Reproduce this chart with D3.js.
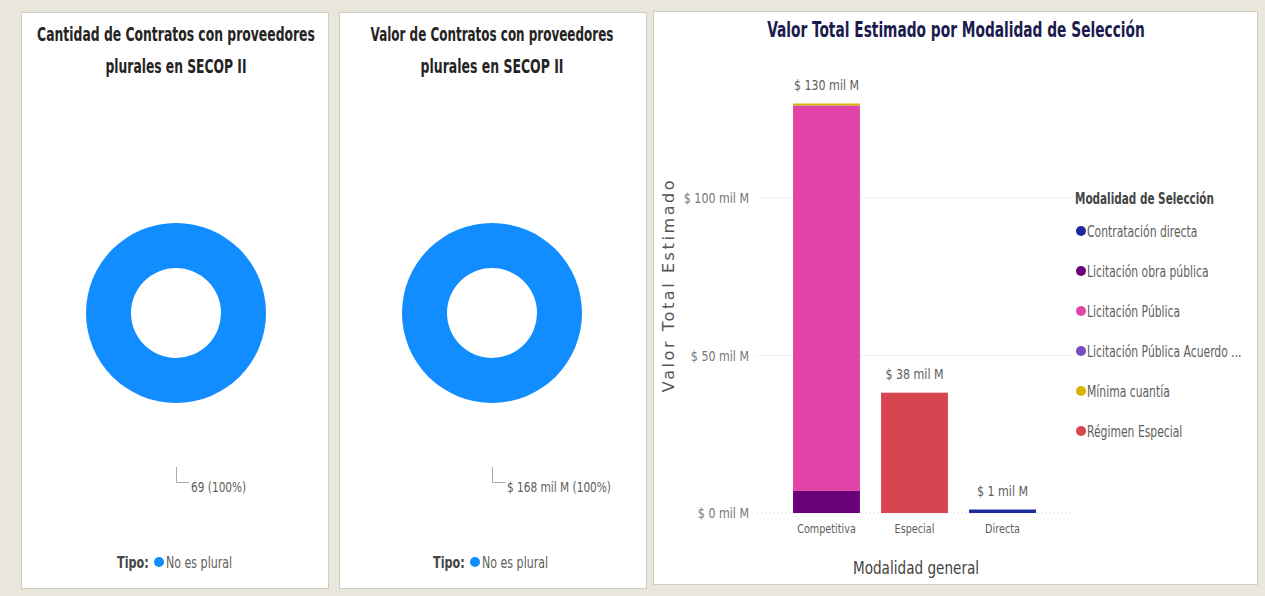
<!DOCTYPE html>
<html><head><meta charset="utf-8">
<script src="https://cdn.jsdelivr.net/npm/d3@7"></script>
<style>
html,body{margin:0;padding:0;background:#e9e6dc;}
svg{display:block;}
</style></head>
<body>
<svg id="c" width="1265" height="596"></svg>
<script>
// ---- data ----
const tipoLabels = ["No es plural"];
const cantidadContratos = [69];
const valorContratos = [168]; // mil M
const categories = ["Competitiva", "Especial", "Directa"];
const modalidades = ["Contratación directa", "Licitación obra pública", "Licitación Pública", "Licitación Pública Acuerdo ...", "Mínima cuantía", "Régimen Especial"];
const contratacionDirecta = [0, 0, 1.1];
const licitacionObraPublica = [7.0, 0, 0];
const licitacionPublica = [122.3, 0, 0];
const licitacionAcuerdo = [0.1, 0, 0];
const minimaCuantia = [0.6, 0, 0];
const regimenEspecial = [0, 38.2, 0];
const yTicks = [0, 50, 100];

const modColors = ["#1c2a9e", "#6b007b", "#e044a7", "#744ec2", "#d9b300", "#d64550"];
const seriesValues = [contratacionDirecta, licitacionObraPublica, licitacionPublica, licitacionAcuerdo, minimaCuantia, regimenEspecial];

const svg = d3.select("#c");
const FONT = "'DejaVu Sans Condensed','DejaVu Sans',sans-serif";

// condensed text: anchor at (x,y), horizontally scaled by k (mimics the narrow font of the reference)
function ctext(parent, x, y, k, str, anchor) {
  return parent.append("text").attr("transform", `translate(${x},${y}) scale(${k},1)`)
    .attr("text-anchor", anchor || "start").attr("font-family", FONT).text(str);
}
// scale to a target width
function wtext(parent, x, y, w, str, anchor, size, weight) {
  const t = parent.append("text").attr("text-anchor", anchor || "start").attr("font-family", FONT)
    .attr("font-size", size).attr("font-weight", weight || "normal").text(str);
  const len = t.node().getComputedTextLength();
  t.attr("transform", `translate(${x},${y}) scale(${w / len},1)`);
  return t;
}

// panels
const panels = [[21, 12, 307, 576], [339, 12, 307, 576], [653, 11, 604, 573]];
panels.forEach(p => svg.append("rect").attr("x", p[0] + 0.5).attr("y", p[1] + 0.5).attr("width", p[2]).attr("height", p[3])
  .attr("fill", "#fff").attr("stroke", "#d0cdc4"));

// ---- donuts ----
function donut(cx, title, titleW, values, labelFmt, legendX) {
  const g = svg.append("g");
  title.forEach((t, i) => wtext(g, cx, 41 + i * 32, titleW[i], t, "middle", 20, "bold").attr("fill", "#252423"));
  const pie = d3.pie().sort(null)(values);
  const arc = d3.arc().innerRadius(45).outerRadius(90);
  g.append("g").attr("transform", `translate(${cx},313)`).selectAll("path").data(pie).join("path")
    .attr("d", arc).attr("fill", "#118dff");
  const total = d3.sum(values);
  g.append("path").attr("d", `M${cx + 0.5},467 V482.5 H${cx + 13}`).attr("fill", "none").attr("stroke", "#aaa");
  ctext(g, cx + 15, 492, 0.84, labelFmt(values[0]) + " (" + Math.round(values[0] / total * 100) + "%)")
    .attr("font-size", 14).attr("fill", "#605e5c");
  ctext(g, legendX, 568, 0.83, "Tipo:").attr("font-weight", "bold").attr("font-size", 15).attr("fill", "#444");
  g.append("circle").attr("cx", legendX + 42).attr("cy", 562).attr("r", 5).attr("fill", "#118dff");
  ctext(g, legendX + 49, 568, 0.82, tipoLabels[0]).attr("font-size", 15).attr("fill", "#605e5c");
}
donut(176, ["Cantidad de Contratos con proveedores", "plurales en SECOP II"], [278, 141], cantidadContratos, v => String(v), 117);
donut(492, ["Valor de Contratos con proveedores", "plurales en SECOP II"], [243, 143], valorContratos, v => "$ " + v + " mil M", 433);

// ---- stacked bar ----
const x = d3.scaleBand().domain(categories).range([782.5, 1046.5]).paddingInner(0.24).paddingOuter(0.12);
const y = d3.scaleLinear().domain([0, 130]).range([513, 103.5]);

wtext(svg, 956, 37, 378, "Valor Total Estimado por Modalidad de Selección", "middle", 21, "bold").attr("fill", "#1b1b4f");

// grid
const grid = svg.append("g");
yTicks.forEach(t => grid.append("line").attr("x1", 757).attr("x2", 1072).attr("y1", y(t)).attr("y2", y(t))
  .attr("stroke", "#c8c8c8").attr("stroke-dasharray", "1,3"));
const yAxis = d3.axisLeft(y).tickValues(yTicks).tickSize(0).tickPadding(0).tickFormat(d => "$ " + d + " mil M");
const ya = svg.append("g").attr("transform", "translate(749,0)").call(yAxis);
ya.select(".domain").remove();
ya.selectAll("text").attr("font-family", FONT).attr("font-size", 14).attr("fill", "#777").attr("dy", "0.35em")
  .attr("x", 0).attr("transform", "scale(0.88,1)");

const stackData = categories.map((c, i) => { const o = { cat: c }; modalidades.forEach((m, k) => o[m] = seriesValues[k][i]); return o; });
const stack = d3.stack().keys(modalidades)(stackData);
svg.append("g").selectAll("g").data(stack).join("g").attr("fill", (d, i) => modColors[i])
  .selectAll("rect").data(d => d).join("rect")
  .attr("x", d => x(d.data.cat)).attr("width", x.bandwidth())
  .attr("y", d => y(d[1])).attr("height", d => Math.max(0, y(d[0]) - y(d[1])));

// totals
categories.forEach((c, i) => {
  const tot = d3.sum(seriesValues, s => s[i]);
  ctext(svg, x(c) + x.bandwidth() / 2, y(tot) - 14, 0.88, "$ " + Math.round(tot) + " mil M", "middle")
    .attr("font-size", 14).attr("fill", "#605e5c");
});

const xAxis = d3.axisBottom(x).tickSize(0).tickPadding(0);
const xa = svg.append("g").attr("transform", "translate(0,521)").call(xAxis);
xa.select(".domain").remove();
xa.selectAll("text").attr("font-family", FONT).attr("font-size", 12.5).attr("fill", "#605e5c").attr("dy", "1em")
  .attr("y", 0).attr("transform", "scale(0.86,1)");

ctext(svg, 916, 574, 0.84, "Modalidad general", "middle").attr("font-size", 18).attr("fill", "#444");
const yt = svg.append("text").attr("text-anchor", "middle").attr("font-family", "'DejaVu Sans',sans-serif")
  .attr("font-size", 16).attr("fill", "#555").attr("letter-spacing", 2.6).text("Valor Total Estimado");
yt.attr("transform", "translate(674,285) rotate(-90)");

// legend
const lg = svg.append("g");
ctext(lg, 1075, 204, 0.75, "Modalidad de Selección").attr("font-weight", "bold").attr("font-size", 15.5).attr("fill", "#444");
modalidades.forEach((m, i) => {
  const yy = 231 + i * 40;
  lg.append("circle").attr("cx", 1081).attr("cy", yy).attr("r", 5).attr("fill", modColors[i]);
  ctext(lg, 1087, yy + 6, 0.8, m).attr("font-size", 15).attr("fill", "#605e5c");
});
</script>
</body></html>
